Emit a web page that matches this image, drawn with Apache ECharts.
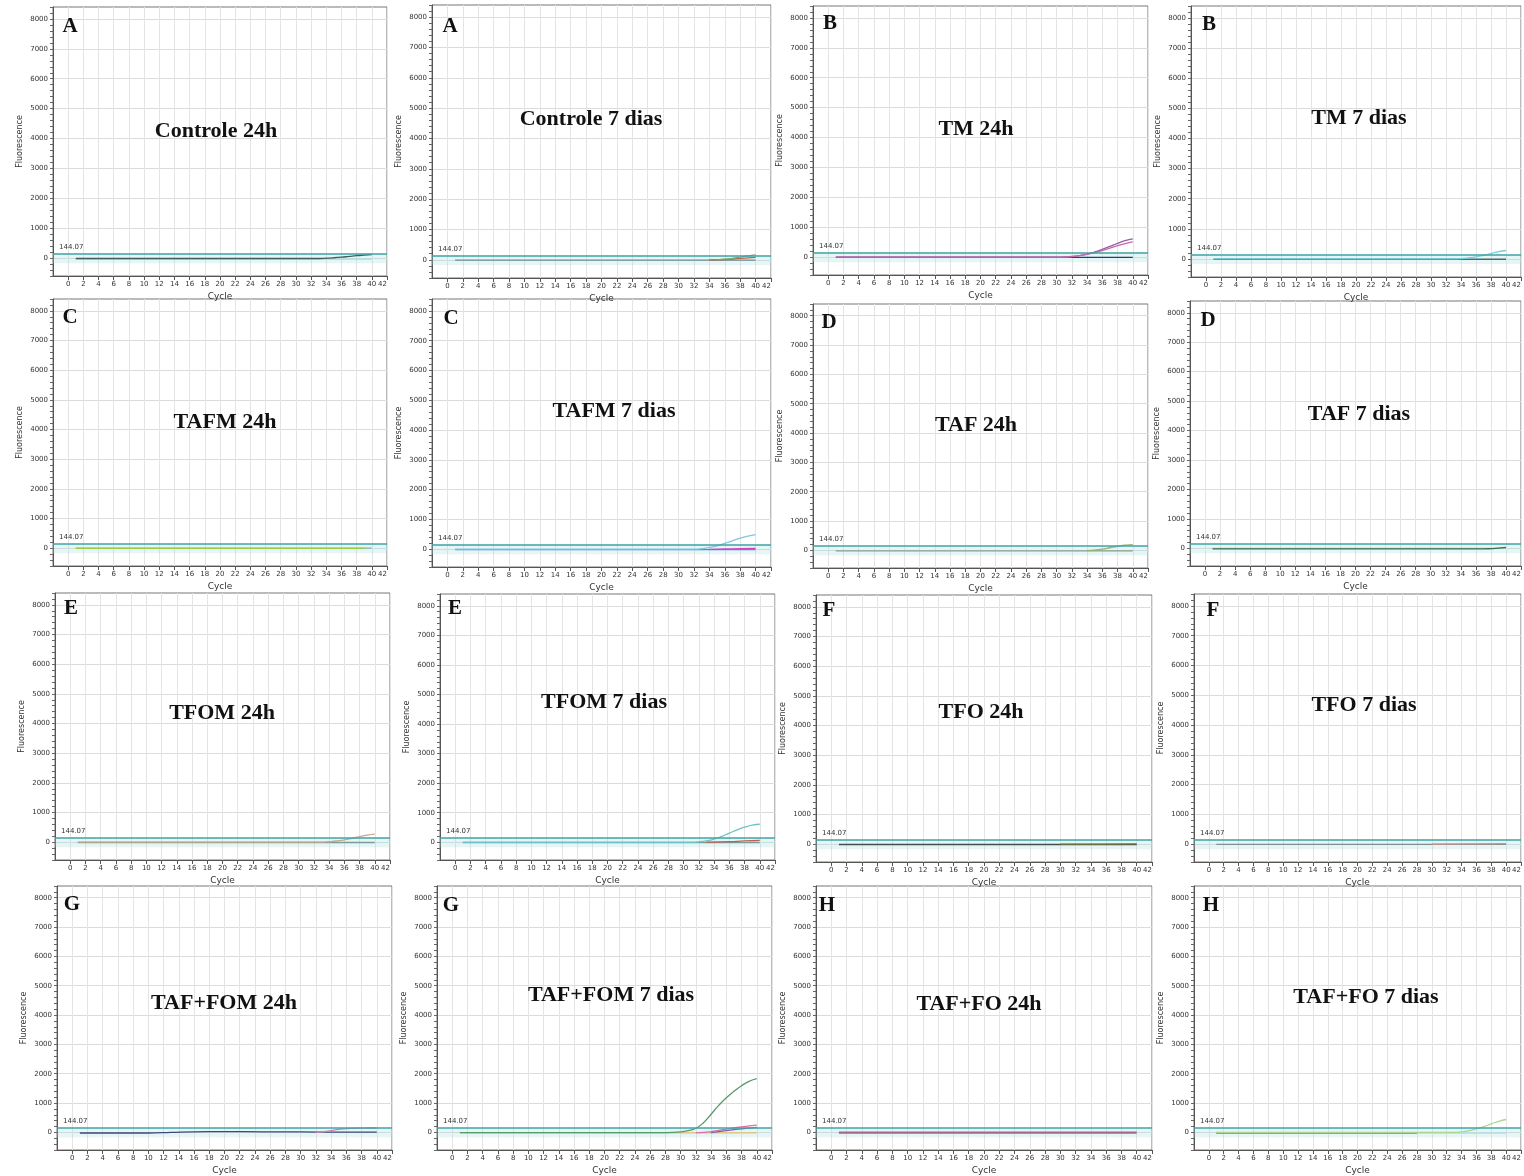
<!DOCTYPE html>
<html><head><meta charset="utf-8">
<script src="https://cdn.jsdelivr.net/npm/echarts@6/dist/echarts.min.js"></script>
<style>html,body{margin:0;padding:0;background:#fff}#c{width:1524px;height:1176px}</style>
</head><body><div id="c"></div>
<script>
// ---------- texts ----------
const titles = ['Controle 24h','Controle 7 dias','TM 24h','TM 7 dias',
  'TAFM 24h','TAFM 7 dias','TAF 24h','TAF 7 dias',
  'TFOM 24h','TFOM 7 dias','TFO 24h','TFO 7 dias',
  'TAF+FOM 24h','TAF+FOM 7 dias','TAF+FO 24h','TAF+FO 7 dias'];
const letters = ['A','A','B','B','C','C','D','D','E','E','F','F','G','G','H','H'];
const xLabelValues = [0,2,4,6,8,10,12,14,16,18,20,22,24,26,28,30,32,34,36,38,40,42];
const yLabelValues = [0,1000,2000,3000,4000,5000,6000,7000,8000];
const threshold = 144.07;
const bandLow = -170;

// ---------- data: [cycle, fluorescence] ----------
const c24_a = [[1,-15],[10,-15],[20,-15],[30,-15],[33,-14],[34,-5],[35,10],[36,30],[37,55],[38,80],[39,100],[40,118]];
const c24_b = [[1,-35],[40,-35]];
const c7_a = [[1,-10],[40,-10]];
const c7_b = [[34,-5],[35,0],[36,10],[37,25],[38,45],[39,65],[40,80]];
const c7_c = [[35,0],[36,20],[37,50],[38,90],[39,130],[40,160]];
const tm24_a = [[1,-10],[40,-10]];
const tm24_b = [[1,-5],[30,-5],[31,5],[32,20],[33,50],[34,100],[35,170],[36,260],[37,360],[38,460],[39,550],[40,610]];
const tm24_c = [[1,0],[31,0],[32,15],[33,45],[34,90],[35,150],[36,220],[37,300],[38,380],[39,450],[40,510]];
const tm7_a = [[1,-10],[40,-10]];
const tm7_b = [[1,0],[33,0],[34,10],[35,35],[36,70],[37,120],[38,180],[39,240],[40,280]];
const tafm24_a = [[1,-5],[39,-5]];
const tafm24_b = [[1,5],[40,5]];
const tafm7_a = [[1,-15],[40,-15]];
const tafm7_b = [[1,0],[32,0],[33,15],[34,50],[35,110],[36,190],[37,280],[38,370],[39,440],[40,490]];
const tafm7_c = [[34,-5],[36,5],[38,15],[40,25]];
const taf24_a = [[1,-15],[40,-15]];
const taf24_b = [[34,-5],[35,10],[36,40],[37,90],[38,140],[39,180],[40,200]];
const taf7_a = [[1,-20],[37,-20],[38,-10],[39,10],[40,30]];
const taf7_b = [[1,0],[40,0]];
const tfom24_a = [[1,-10],[40,-10]];
const tfom24_b = [[1,0],[33,0],[34,15],[35,40],[36,80],[37,130],[38,190],[39,240],[40,270]];
const tfom7_a = [[1,-10],[40,-10]];
const tfom7_b = [[1,0],[31,0],[32,15],[33,50],[34,110],[35,200],[36,310],[37,420],[38,510],[39,580],[40,610]];
const tfom7_c = [[33,0],[36,20],[38,45],[40,60]];
const tfo24_a = [[1,-10],[40,-10]];
const tfo24_b = [[30,0],[35,5],[40,12]];
const tfo7_a = [[1,-10],[40,-10]];
const tfo7_b = [[30,0],[35,10],[40,20]];
const tafFom24_a = [[1,-20],[10,-20],[13,0],[16,20],[20,25],[25,20],[30,15],[35,10],[40,10]];
const tafFom24_b = [[32,0],[33,20],[34,60],[35,100],[36,130],[37,140],[38,145],[39,150],[40,150]];
const tafFom7_a = [[1,-15],[40,-15]];
const tafFom7_b = [[1,-5],[28,-5],[29,0],[30,20],[31,60],[32,140],[33,330],[34,620],[35,920],[36,1180],[37,1400],[38,1590],[39,1740],[40,1830]];
const tafFom7_c = [[32,-10],[33,0],[34,30],[35,70],[36,110],[37,150],[38,190],[39,220],[40,250]];
const tafFom7_d = [[34,-5],[36,60],[38,120],[40,170]];
const tafFo24_a = [[1,-10],[40,-10]];
const tafFo7_a = [[1,-15],[28,-15]];
const tafFo7_b = [[1,0],[33,0],[34,20],[35,60],[36,120],[37,200],[38,290],[39,380],[40,440]];
const tafFo7_c = [[1,-25],[40,-25]];

// ---------- series per panel (data ref + colour) ----------
const panelSeries = [
  [[c24_b,'#9fdfe6'],[c24_a,'#3d5f5c']],
  [[c7_a,'#6e8c8c'],[c7_b,'#b5654f'],[c7_c,'#7aa870']],
  [[tm24_a,'#2e3a6e'],[tm24_b,'#9b59a8'],[tm24_c,'#c868a8']],
  [[tm7_a,'#4a6b6b'],[tm7_b,'#6fd0e0']],
  [[tafm24_b,'#7fb8b0'],[tafm24_a,'#9ccc40']],
  [[tafm7_a,'#5a8ccc'],[tafm7_b,'#7cc8e0'],[tafm7_c,'#d040c0']],
  [[taf24_a,'#909c8c'],[taf24_b,'#9ab070']],
  [[taf7_b,'#9fc8b8'],[taf7_a,'#3e6e4e']],
  [[tfom24_a,'#7f9a98'],[tfom24_b,'#c8a890']],
  [[tfom7_a,'#7f9a98'],[tfom7_b,'#70c0c8'],[tfom7_c,'#c06050']],
  [[tfo24_a,'#444c4c'],[tfo24_b,'#7a7a40']],
  [[tfo7_a,'#7f8f8f'],[tfo7_b,'#d09090']],
  [[tafFom24_a,'#3a4a7a'],[tafFom24_b,'#d080b0']],
  [[tafFom7_a,'#e8c070'],[tafFom7_b,'#5a9a6a'],[tafFom7_c,'#e070a0'],[tafFom7_d,'#8060b0']],
  [[tafFo24_a,'#a06a8a']],
  [[tafFo7_c,'#a8e0e8'],[tafFo7_a,'#5a6060'],[tafFo7_b,'#a8d890']]
];

// ---------- layout (pixel boxes) ----------
const layout = [
  {l:53,t:7,w:334,h:269, tx:216,ty:131, lx:70,ly:27},
  {l:432,t:5,w:339,h:273, tx:591,ty:119, lx:450,ly:27},
  {l:813,t:6,w:335,h:269, tx:976,ty:129, lx:830,ly:24},
  {l:1191,t:6,w:335,h:271, tx:1359,ty:118, lx:1209,ly:25},
  {l:53,t:299,w:334,h:267, tx:225,ty:422, lx:70,ly:318},
  {l:432,t:299,w:339,h:268, tx:614,ty:411, lx:451,ly:319},
  {l:813,t:304,w:335,h:264, tx:976,ty:425, lx:829,ly:323},
  {l:1190,t:301,w:335,h:265, tx:1359,ty:414, lx:1208,ly:321},
  {l:55,t:593,w:335,h:267, tx:222,ty:713, lx:71,ly:609},
  {l:440,t:594,w:335,h:266, tx:604,ty:702, lx:455,ly:609},
  {l:816,t:595,w:336,h:267, tx:981,ty:712, lx:829,ly:611},
  {l:1194,t:594,w:335,h:268, tx:1364,ty:705, lx:1213,ly:611},
  {l:57,t:886,w:335,h:267, tx:224,ty:1003, lx:72,ly:905},
  {l:437,t:886,w:335,h:268, tx:611,ty:995, lx:451,ly:906},
  {l:816,t:886,w:336,h:268, tx:979,ty:1004, lx:827,ly:906},
  {l:1194,t:886,w:335,h:267, tx:1366,ty:997, lx:1211,ly:906}
];

const tickFont = 'DejaVu Sans';
const grid = [], xAxis = [], yAxis = [], series = [], graphic = [];
const tr = 'rgba(0,0,0,0)';
layout.forEach((p, i) => {
  grid.push({left:p.l, top:p.t, width:p.w, height:p.h, show:true, borderColor:'#777', borderWidth:1, backgroundColor:'#fff'});
  xAxis.push({
    type:'value', gridIndex:i, min:-2, max:42, interval:2,
    name:'Cycle', nameLocation:'middle', nameGap:16,
    nameTextStyle:{fontSize:9, color:'#333', fontFamily:tickFont},
    axisLine:{show:true, onZero:false, lineStyle:{color:'#555'}},
    axisTick:{show:true, length:4, lineStyle:{color:'#555'}},
    axisLabel:{fontSize:7, color:'#333', fontFamily:tickFont, margin:5,
      showMinLabel:false, alignMaxLabel:'right',
      formatter: v => xLabelValues.includes(v) ? String(v) : ''},
    splitLine:{show:true, lineStyle:{color:'#e4e4e4', width:1}}
  });
  yAxis.push({
    type:'value', gridIndex:i, min:-600, max:8400, interval:200,
    name:'Fluorescence', nameLocation:'middle', nameGap:29,
    nameTextStyle:{fontSize:8, color:'#333', fontFamily:tickFont},
    axisLine:{show:true, onZero:false, lineStyle:{color:'#555'}},
    axisTick:{show:true, length:3, lineStyle:{color:'#666'}},
    axisLabel:{fontSize:7, color:'#333', fontFamily:tickFont, margin:5,
      formatter: v => yLabelValues.includes(v) ? String(v) : ''},
    splitLine:{show:true, lineStyle:{color:[tr,tr,tr,'#dcdcdc',tr], width:1}}
  });
  panelSeries[i].forEach((s, k) => {
    const ser = {
      type:'line', xAxisIndex:i, yAxisIndex:i, data:s[0], showSymbol:false, smooth:true,
      lineStyle:{color:s[1], width: i===14 ? 2.2 : 1.3}, itemStyle:{color:s[1]}, silent:true, z:3
    };
    if (k === 0) {
      ser.markArea = {silent:true, itemStyle:{color:'rgba(165,222,228,0.28)'},
        data:[[{yAxis:bandLow},{yAxis:threshold}]]};
      ser.markLine = {silent:true, symbol:'none', animation:false,
        lineStyle:{color:'#3fa3a3', width:1.6, type:'solid'},
        label:{show:true, position:'insideStartTop', formatter:'144.07', fontSize:7, color:'#333', fontFamily:tickFont, distance:[6,3]},
        data:[{yAxis:threshold}]};
    }
    series.push(ser);
  });
  graphic.push({type:'text', x:p.tx, y:p.ty, z:10,
    style:{text:titles[i], font:'bold 22px "Liberation Serif"', fill:'#111', align:'center', verticalAlign:'middle'}});
  graphic.push({type:'text', x:p.lx, y:p.ly, z:10,
    style:{text:letters[i], font:'bold 21px "Liberation Serif"', fill:'#111', align:'center', verticalAlign:'middle'}});
});

const chart = echarts.init(document.getElementById('c'), null, {renderer:'canvas'});
chart.setOption({animation:false, backgroundColor:'#fff', grid, xAxis, yAxis, series, graphic});
</script></body></html>
